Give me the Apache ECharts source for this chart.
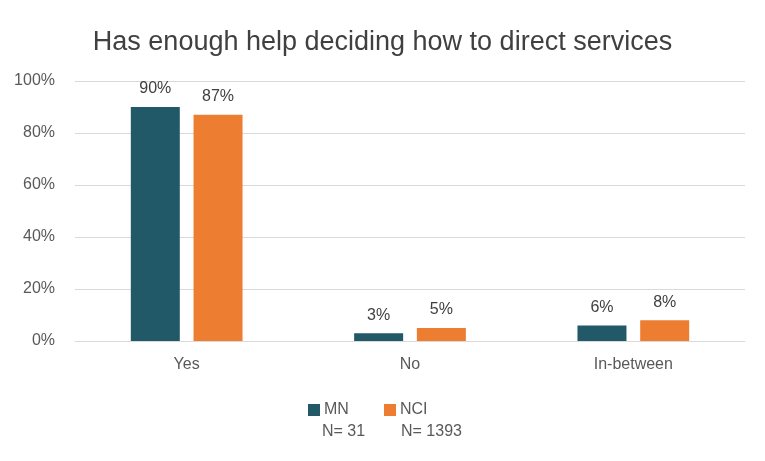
<!DOCTYPE html>
<html>
<head>
<meta charset="utf-8">
<script src="https://cdn.jsdelivr.net/npm/echarts@6/dist/echarts.min.js"></script>
<style>html,body{margin:0;padding:0;background:#fff}#c{width:765px;height:461px}</style>
</head>
<body>
<div id="c"></div>
<script>
const categories = ['Yes', 'No', 'In-between'];
const mnValues = [90, 3, 6];
const nciValues = [87, 5, 8];
const seriesNames = ['MN', 'NCI'];
const sampleSizes = ['N= 31', 'N= 1393'];
const yTicks = [0, 20, 40, 60, 80, 100];

const FONT = '"Liberation Sans", "DejaVu Sans", sans-serif';
const chart = echarts.init(document.getElementById('c'), null, {renderer: 'canvas'});
const labelStyle = {show: true, position: 'top', distance: 10, formatter: p => p.value + '%', color: '#404040', fontSize: 16, fontFamily: FONT};
const legendCommon = {
  top: 397, itemWidth: 12, itemHeight: 12, icon: 'rect',
  textStyle: {fontSize: 16, color: '#595959', fontFamily: FONT, padding: [0, 0, 0, -1]}
};
chart.setOption({
  animation: false,
  textStyle: {fontFamily: FONT},
  title: {
    text: 'Has enough help deciding how to direct services',
    left: 'center', top: 24,
    textStyle: {fontSize: 27, fontWeight: 'normal', color: '#404040', fontFamily: FONT}
  },
  grid: {left: 75, right: 20, top: 81, bottom: 120, containLabel: false},
  legend: [
    Object.assign({left: 303, data: [seriesNames[0]]}, legendCommon),
    Object.assign({left: 379, data: [seriesNames[1]]}, legendCommon)
  ],
  graphic: [
    {type: 'text', left: 322, top: 424, style: {text: sampleSizes[0], fontSize: 16, fill: '#595959', fontFamily: FONT}},
    {type: 'text', left: 401, top: 424, style: {text: sampleSizes[1], fontSize: 16, fill: '#595959', fontFamily: FONT}}
  ],
  xAxis: {
    type: 'category', data: categories,
    axisLine: {lineStyle: {color: '#d9d9d9'}},
    axisTick: {show: false},
    axisLabel: {color: '#595959', fontSize: 16, margin: 16, fontFamily: FONT}
  },
  yAxis: {
    type: 'value', min: yTicks[0], max: yTicks[yTicks.length - 1], interval: 20,
    axisLine: {show: false}, axisTick: {show: false},
    splitLine: {lineStyle: {color: '#d9d9d9'}},
    axisLabel: {color: '#595959', fontSize: 16, margin: 20, formatter: v => v + '%', fontFamily: FONT}
  },
  series: [
    {name: seriesNames[0], type: 'bar', data: mnValues, barWidth: 49, barGap: '28%', itemStyle: {color: '#215968'}, label: labelStyle},
    {name: seriesNames[1], type: 'bar', data: nciValues, barWidth: 49, itemStyle: {color: '#ED7D31'}, label: labelStyle}
  ]
});
</script>
</body>
</html>
